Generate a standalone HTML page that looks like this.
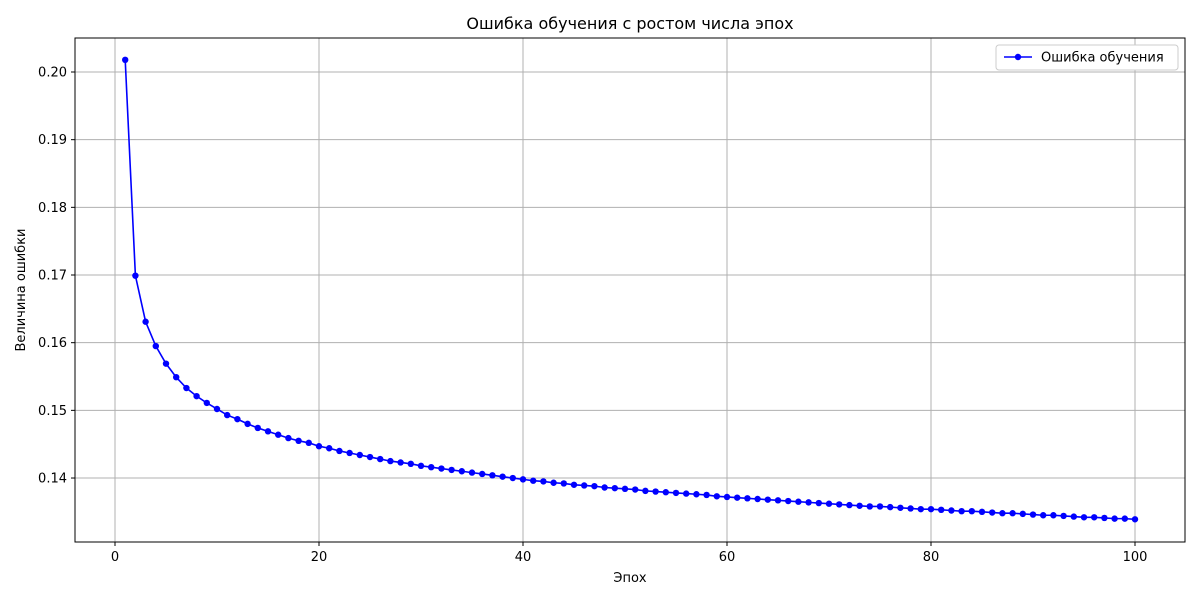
<!DOCTYPE html>
<html><head><meta charset="utf-8"><style>
body{margin:0;background:#fff;font-family:"Liberation Sans","DejaVu Sans",sans-serif;}
svg text{font-family:"DejaVu Sans","Liberation Sans",sans-serif;}
</style></head><body>
<svg id="chart" width="1200" height="600" xmlns="http://www.w3.org/2000/svg"></svg>
<script>
const epochs = Array.from({length:100},(_,i)=>i+1);
const errors = [0.2018,0.1699,0.1631,0.1595,0.1569,0.1549,0.1533,0.1521,0.1511,0.1502,
0.1493,0.1487,0.1480,0.1474,0.1469,0.1464,0.1459,0.1455,0.1452,0.1447,
0.1444,0.1440,0.1437,0.1434,0.1431,0.1428,0.1425,0.1423,0.1421,0.1418,
0.1416,0.1414,0.1412,0.1410,0.1408,0.1406,0.1404,0.1402,0.1400,0.1398,
0.1396,0.1395,0.1393,0.1392,0.1390,0.1389,0.1388,0.1386,0.1385,0.1384,
0.1383,0.1381,0.1380,0.1379,0.1378,0.1377,0.1376,0.1375,0.1373,0.1372,
0.1371,0.1370,0.1369,0.1368,0.1367,0.1366,0.1365,0.1364,0.1363,0.1362,
0.1361,0.1360,0.1359,0.1358,0.1358,0.1357,0.1356,0.1355,0.1354,0.1354,
0.1353,0.1352,0.1351,0.1351,0.1350,0.1349,0.1348,0.1348,0.1347,0.1346,
0.1345,0.1345,0.1344,0.1343,0.1342,0.1342,0.1341,0.1340,0.1340,0.1339];
const xTicks = [0,20,40,60,80,100];
const yTicks = [0.14,0.15,0.16,0.17,0.18,0.19,0.20];

const NS="http://www.w3.org/2000/svg";
const svg=document.getElementById('chart');
const L=75,R=1185,T=38,B=542;
const sx=v=>115+(v-0)*10.2;
const sy=v=>72+(0.20-v)*6767;
function mk(tag,attrs,parent){const e=document.createElementNS(NS,tag);for(const k in attrs)e.setAttribute(k,attrs[k]);(parent||svg).appendChild(e);return e;}

const grid=mk('g',{});


xTicks.forEach(t=>{
  const x=sx(t);
  const l=mk('line',{x1:x,x2:x,y1:T,y2:B,stroke:'#b0b0b0','stroke-width':1},grid);
  
  
  mk('line',{x1:x,x2:x,y1:B,y2:B+4,stroke:'#000'});
  const tx=mk('text',{x:x,y:B+19,'text-anchor':'middle','font-size':13});
  tx.textContent=t;
  
  
});
yTicks.forEach(t=>{
  const y=sy(t);
  const l=mk('line',{x1:L,x2:R,y1:y,y2:y,stroke:'#b0b0b0','stroke-width':1},grid);
  
  
  mk('line',{x1:L-4,x2:L,y1:y,y2:y,stroke:'#000'});
  const tx=mk('text',{x:L-8,y:y+4.5,'text-anchor':'end','font-size':13});
  tx.textContent=t.toFixed(2);
  
  
});

const pts=epochs.map((e,i)=>sx(e)+','+sy(errors[i])).join(' ');
const line=mk('polyline',{points:pts,fill:'none',stroke:'#0000ff','stroke-width':1.6});


epochs.forEach((e,i)=>{
  const c=mk('circle',{cx:sx(e),cy:sy(errors[i]),r:3.2,fill:'#0000ff'});
  
  
});

const frame=mk('rect',{x:L,y:T,width:R-L,height:B-T,fill:'none',stroke:'#000','stroke-width':1});



const title=mk('text',{x:630,y:29,'text-anchor':'middle','font-size':16});
title.textContent='Ошибка обучения с ростом числа эпох';


const xl=mk('text',{x:630,y:582,'text-anchor':'middle','font-size':13});
xl.textContent='Эпох';


const yl=mk('text',{x:25,y:290,'text-anchor':'middle','font-size':13,transform:'rotate(-90 25 290)'});
yl.textContent='Величина ошибки';



const lg=mk('g',{});


mk('rect',{x:996,y:45,width:182,height:25,rx:3,fill:'#fff',stroke:'#ccc'},lg);
mk('line',{x1:1004,x2:1032,y1:57,y2:57,stroke:'#0000ff','stroke-width':1.6},lg);
mk('circle',{cx:1018,cy:57,r:3.2,fill:'#0000ff'},lg);
const lt=mk('text',{x:1041,y:61.5,'font-size':13},lg);
lt.textContent='Ошибка обучения';


</script>
</body></html>
